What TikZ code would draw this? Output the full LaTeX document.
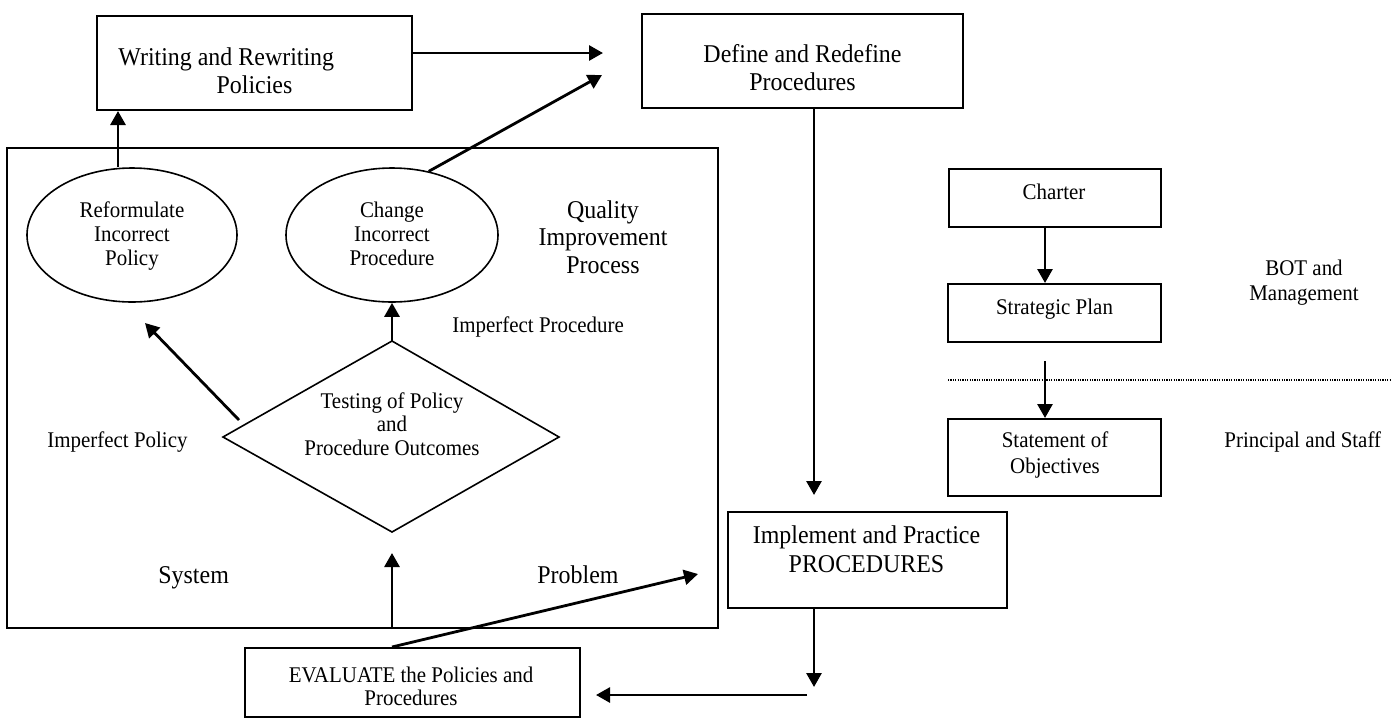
\documentclass[tikz,border=0pt]{standalone}
\usepackage{fontspec}
\setmainfont{Liberation Serif}[FakeStretch=0.935]
\usetikzlibrary{arrows.meta,calc,shapes.geometric}
\newcommand{\mltext}[1]{\begin{tabular}[t]{@{}c@{}}#1\end{tabular}}
\begin{document}
\begin{tikzpicture}[x=0.5pt,y=-0.5pt,
  box/.style={draw,line width=1pt,inner sep=0pt,rectangle},
  ell/.style={draw,line width=0.8pt,ellipse,inner sep=0pt},
  arr/.style={line width=1.4pt,-{Triangle[length=7pt,width=7.5pt]}},
  lbl/.style={inner sep=0pt,anchor=base},
  bigf/.style={font=\fontsize{12.8}{14}\selectfont},
  smallf/.style={font=\fontsize{11.2}{12}\selectfont}]
\useasboundingbox (0,0) rectangle (1398,719);

% boxes
\node[box,minimum width=157.5pt,minimum height=47pt] (wr) at (254.5,63) {};
\node[box,minimum width=160.5pt,minimum height=47pt] (def) at (802.5,61) {};
\node[box,minimum width=355.5pt,minimum height=240pt] (big) at (362.5,388) {};
\node[ell,minimum width=105pt,minimum height=67pt] (ref) at (132,235) {};
\node[ell,minimum width=106pt,minimum height=67pt] (chg) at (392,235) {};
\node[box,minimum width=167.5pt,minimum height=34.5pt] (eval) at (412.5,682.5) {};
\node[box,minimum width=139.5pt,minimum height=48pt] (impl) at (867.5,560) {};
\node[box,minimum width=106pt,minimum height=29pt] (charter) at (1055,198) {};
\node[box,minimum width=106.5pt,minimum height=29pt] (strat) at (1054.5,313) {};
\node[box,minimum width=106.5pt,minimum height=38.5pt] (stmt) at (1054.5,457.5) {};

% diamond
\coordinate (dt) at (392,341);
\coordinate (dl) at (223,437);
\coordinate (dr) at (559,437);
\coordinate (db) at (392,532);
\draw[line width=0.8pt] (dt) -- (dr) -- (db) -- (dl) -- cycle;

% dotted separator
\coordinate (sep1) at (948,380);
\coordinate (sep2) at (1390,380);
\draw[line width=0.8pt,dash pattern=on 0.6pt off 0.6pt] (sep1) -- (sep2);

% connectors
\coordinate (p1) at ($(ref.north)+(-14,0)$);
\draw[arr] (p1) -- (p1 |- wr.south);
\coordinate (a2) at (603,53);
\draw[arr] (wr.east |- a2) -- (a2);
\coordinate (a3) at (602,75);
\draw[arr] (chg.60) -- (a3);
\coordinate (a4) at (814,495);
\draw[arr] (def.south -| a4) -- (a4);
\draw[arr] ($(charter.south)+(-10,0)$) -- ($(strat.north)+(-9.5,0)$);
\coordinate (a6) at (1045,361);
\draw[arr] (a6) -- ($(stmt.north)+(-9.5,0)$);
\draw[arr] (dt) -- (chg.south);
\coordinate (a8s) at (239,420);
\coordinate (a8e) at (145,323);
\draw[arr] (a8s) -- (a8e);
\coordinate (a9) at (392,553);
\draw[arr] (big.south -| dt) -- (a9);
\coordinate (a10) at (698,574);
\draw[arr] (eval.north -| dt) -- (a10);
\coordinate (a11) at (814,687);
\draw[arr] (impl.south -| a4) -- (a11);
\coordinate (a12) at (807,695);
\draw[arr] (a12) -- ($(eval.east |- a12)+(15,0)$);

% texts
\node[lbl,bigf,anchor=base west] (t1) at (118,65) {Writing and Rewriting};
\node[lbl,bigf] (t2) at (254.5,93) {Policies};
\node[lbl,bigf] (t3) at (802.5,62) {\mltext{Define and Redefine\\Procedures}};
\node[lbl,smallf] (t4) at (132,217) {\mltext{Reformulate\\Incorrect\\Policy}};
\node[lbl,smallf] (t5) at (392,217) {\mltext{Change\\Incorrect\\Procedure}};
\node[lbl,font=\fontsize{12.8}{13.75}\selectfont] (t6) at (603,218) {\mltext{Quality\\Improvement\\Process}};
\node[lbl,smallf,anchor=base west] (t7) at (452,332) {Imperfect Procedure};
\node[lbl,smallf,anchor=base west] (t8) at (47,447) {Imperfect Policy};
\node[lbl,font=\fontsize{11.2}{11.75}\selectfont] (t9) at (392,408) {\mltext{Testing of Policy\\and\\Procedure Outcomes}};
\node[lbl,bigf,anchor=base west] (t10) at (158,583) {System};
\node[lbl,bigf,anchor=base west] (t11) at (537,583) {Problem};
\node[lbl,font=\fontsize{11.2}{11.5}\selectfont] (t12) at (411,682) {\mltext{EVALUATE the Policies and\\Procedures}};
\node[lbl,font=\fontsize{12.8}{14.5}\selectfont] (t13) at (866.5,543) {\mltext{Implement and Practice\\PROCEDURES}};
\node[lbl,smallf] (t14) at (1054,199) {Charter};
\node[lbl,smallf] (t15) at (1054.5,314) {Strategic Plan};
\node[lbl,font=\fontsize{11.2}{13}\selectfont] (t16) at (1055,447) {\mltext{Statement of\\Objectives}};
\node[lbl,font=\fontsize{11.2}{12.5}\selectfont] (t17) at (1304,275) {\mltext{BOT and\\Management}};
\node[lbl,smallf,anchor=base west] (t18) at (1224,447) {Principal and Staff};
\end{tikzpicture}
\end{document}
